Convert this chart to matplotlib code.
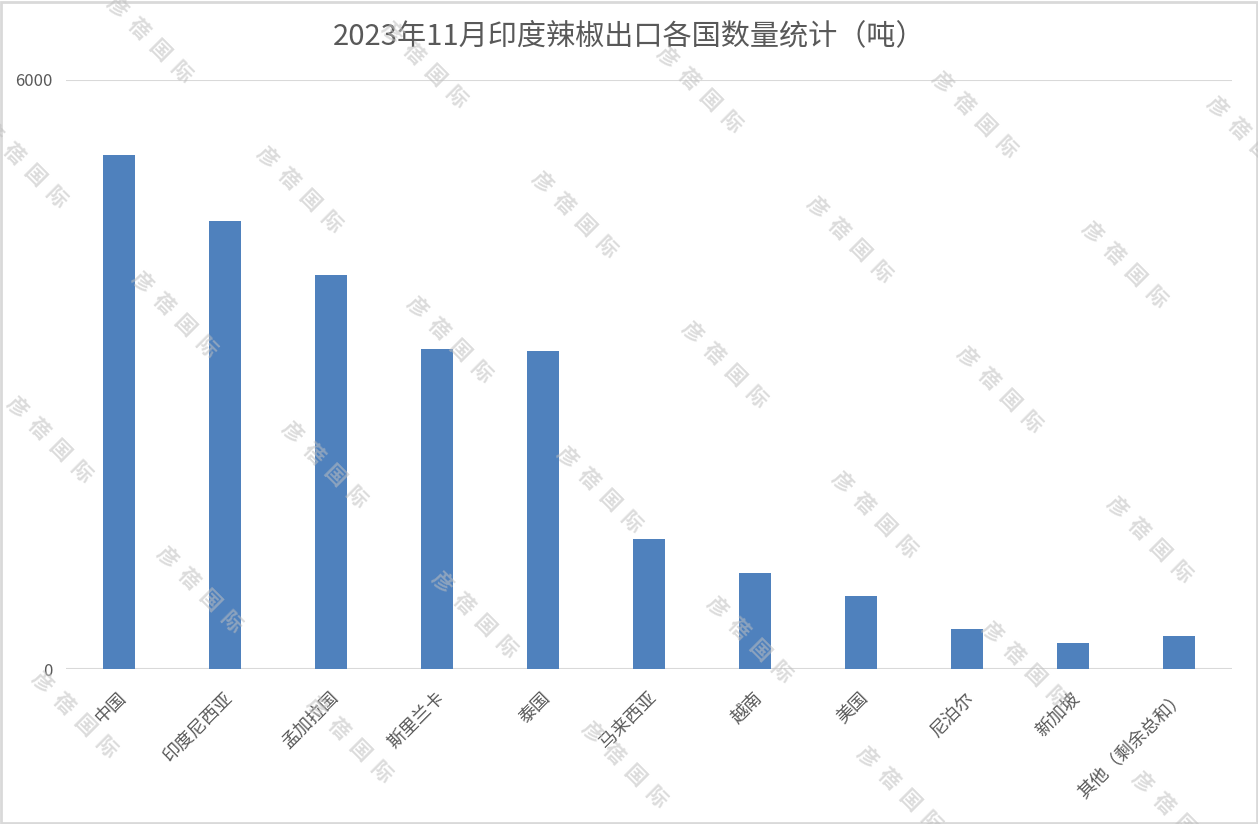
import matplotlib
matplotlib.use("Agg")
import matplotlib.pyplot as plt
from matplotlib.patches import Rectangle
import matplotlib.transforms as mtransforms

plt.rcParams['font.family'] = ['Noto Sans CJK SC', 'DejaVu Sans']

title = "2023年11月印度辣椒出口各国数量统计（吨）"
categories = ["中国", "印度尼西亚", "孟加拉国", "斯里兰卡", "泰国", "马来西亚",
              "越南", "美国", "尼泊尔", "新加坡", "其他（剩余总和）"]
values = [5236, 4564, 4014, 3260, 3239, 1324, 978, 744, 407, 265, 336]
yticks = [0, 6000]
watermark = "彦蓓国际"

W, H = 1258, 824
fig = plt.figure(figsize=(W / 100, H / 100), dpi=100)
ax = fig.add_axes([66 / W, 1 - 669 / H, (1232 - 66) / W, (669 - 80) / H])

x = list(range(len(categories)))
ax.bar(x, values, width=0.31, color="#4F81BD", zorder=2)
ax.set_xlim(-0.5, len(categories) - 0.5)
ax.set_ylim(0, 6000)
ax.set_yticks(yticks)
ax.set_yticklabels([str(v) for v in yticks], fontsize=12, color="#595959")
ax.yaxis.grid(True, color="#d9d9d9", linewidth=1.5, zorder=0)
ax.set_axisbelow(True)
for s in ax.spines.values():
    s.set_visible(False)
ax.tick_params(axis='y', length=0, pad=10)
ax.tick_params(axis='x', length=0, pad=14)
ax.set_xticks(x)
ax.set_xticklabels(categories, rotation=45, ha='right', va='top',
                   rotation_mode='anchor', fontsize=13, color="#595959")
offset = mtransforms.ScaledTranslation(-0.02, 0, fig.dpi_scale_trans)
for lbl in ax.get_xticklabels():
    lbl.set_transform(lbl.get_transform() + offset)

fig.text(0.5, 1 - 36 / H, title, ha='center', va='center', fontsize=21, color="#595959")

# figure border
fig.patches.append(Rectangle((0.001, 0.001), 0.998, 0.997, transform=fig.transFigure,
                             fill=False, edgecolor="#d9d9d9", linewidth=2))

# watermark lattice
base = (150, 40)
v1 = (275, 25)
v2 = (150, 150)
for i in range(-5, 7):
    for j in range(-3, 8):
        cx = base[0] + i * v1[0] + j * v2[0]
        cy = base[1] + i * v1[1] + j * v2[1]
        if -10 < cx < W + 10 and -10 < cy < H + 10:
            fig.text(cx / W, 1 - cy / H, "  ".join(watermark), ha='center', va='center',
                     rotation=-45, fontsize=15, color="#bfbfbf", alpha=0.55,
                     fontweight='bold', zorder=10)

fig.savefig("out.png", dpi=100)
